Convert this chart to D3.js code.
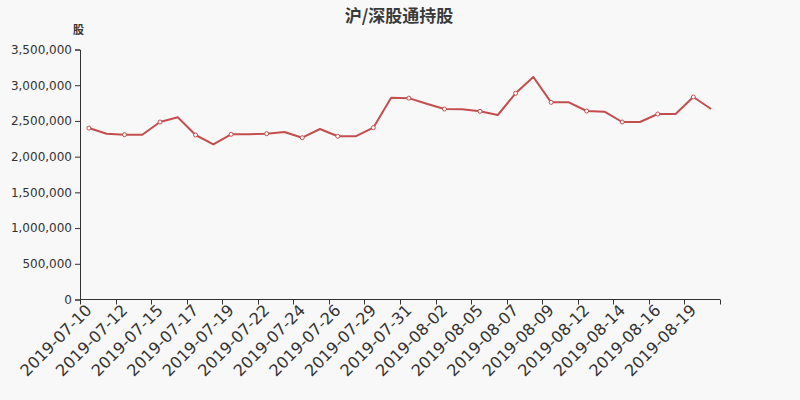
<!DOCTYPE html>
<html>
<head>
<meta charset="utf-8">
<script src="https://cdn.jsdelivr.net/npm/d3@7/dist/d3.min.js"></script>
<style>
html,body{margin:0;padding:0;background:#f8f8f8;}
svg{display:block;font-family:"DejaVu Sans",sans-serif;}
</style>
</head>
<body>
<svg id="chart" width="800" height="400"></svg>
<script>
const dates = ["2019-07-10","2019-07-11","2019-07-12","2019-07-13","2019-07-15","2019-07-16","2019-07-17","2019-07-18","2019-07-19","2019-07-20","2019-07-22","2019-07-23","2019-07-24","2019-07-25","2019-07-26","2019-07-27","2019-07-29","2019-07-30","2019-07-31","2019-08-01","2019-08-02","2019-08-03","2019-08-05","2019-08-06","2019-08-07","2019-08-08","2019-08-09","2019-08-10","2019-08-12","2019-08-13","2019-08-14","2019-08-15","2019-08-16","2019-08-17","2019-08-19","2019-08-20"];
const holdings = [2400000,2321000,2307000,2307000,2485000,2551000,2303000,2172000,2313000,2313000,2321000,2345000,2265000,2387000,2285000,2285000,2405000,2825000,2819000,2741000,2667000,2663000,2635000,2583000,2887000,3115000,2760000,2760000,2639000,2630000,2485000,2485000,2597000,2597000,2835000,2667000];
const yTicks = [0,500000,1000000,1500000,2000000,2500000,3000000,3500000];
const title = "沪/深股通持股";
const yUnit = "股";

const svg = d3.select("#chart");
const m = {left:80, right:80, top:49.5, bottom:100.5};
const W = 800, H = 400;
const lineColor = "#c44d4d";

const x = d3.scaleBand().domain(dates).range([m.left, W - m.right]).paddingInner(0).paddingOuter(0);
const y = d3.scaleLinear().domain([0, 3500000]).range([H - m.bottom, m.top]);

svg.append("rect").attr("width",W).attr("height",H).attr("fill","#f8f8f8");

svg.append("text").attr("x",399).attr("y",14).attr("text-anchor","middle").attr("dominant-baseline","central")
  .attr("font-family","'Noto Sans CJK SC',sans-serif").attr("font-weight","bold").attr("font-size",17).attr("fill","#3a3a3a")
  .text(title);
svg.append("text").attr("x",78.5).attr("y",29).attr("text-anchor","middle").attr("dominant-baseline","central")
  .attr("font-family","'Noto Sans CJK SC',sans-serif").attr("font-weight","bold").attr("font-size",11).attr("fill","#333")
  .text(yUnit);

// Y axis
const yAxis = d3.axisLeft(y).tickValues(yTicks).tickSize(5).tickPadding(3).tickFormat(d3.format(","));
const gy = svg.append("g").attr("transform",`translate(${m.left},0)`).call(yAxis);
gy.select(".domain").attr("stroke","#333");
gy.selectAll(".tick line").attr("stroke","#333");
gy.selectAll(".tick text").attr("font-size",12).attr("fill","#333").attr("font-family","'DejaVu Sans',sans-serif");

// X axis
const tickDates = dates.filter((d,i)=>i%2===0);
const gx = svg.append("g").attr("transform",`translate(0,${H - m.bottom})`);
gx.append("line").attr("x1",m.left).attr("x2",W-m.right).attr("stroke","#333");
const tickPos = dates.map(d=>x(d)).filter((v,i)=>i%2===0).concat([W-m.right]);
gx.selectAll("line.tk").data(tickPos).enter().append("line").attr("class","tk")
  .attr("x1",d=>Math.round(d)+0.5).attr("x2",d=>Math.round(d)+0.5).attr("y1",0).attr("y2",5).attr("stroke","#333");
gx.selectAll("text.lbl").data(tickDates).enter().append("text").attr("class","lbl")
  .attr("transform",d=>`translate(${x(d)+x.bandwidth()/2},8) rotate(-45)`)
  .attr("text-anchor","end").attr("dominant-baseline","central")
  .attr("font-size",16).attr("fill","#333").text(d=>d);

// Line
const cx = d => x(d) + x.bandwidth()/2;
const line = d3.line().x((d,i)=>cx(dates[i])).y(d=>y(d));
svg.append("path").datum(holdings).attr("d",line).attr("fill","none").attr("stroke",lineColor).attr("stroke-width",2).attr("stroke-linejoin","round");

svg.selectAll("circle.pt").data(holdings.map((v,i)=>({v,i})).filter(d=>d.i%2===0)).enter().append("circle").attr("class","pt")
  .attr("cx",d=>cx(dates[d.i])).attr("cy",d=>y(d.v)).attr("r",2)
  .attr("fill","#fff").attr("stroke",lineColor).attr("stroke-width",1);
</script>
</body>
</html>
